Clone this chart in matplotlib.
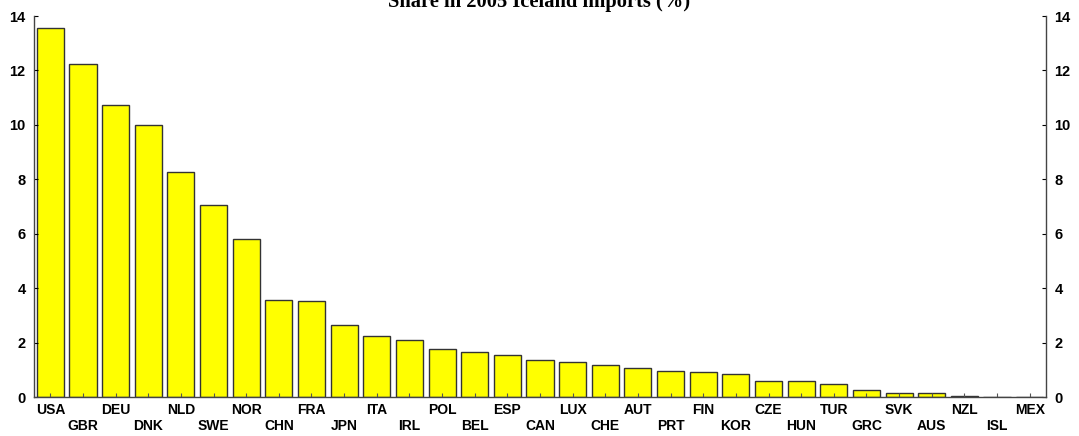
import matplotlib
matplotlib.use("Agg")
import matplotlib.pyplot as plt

countries = ["USA", "GBR", "DEU", "DNK", "NLD", "SWE", "NOR", "CHN", "FRA", "JPN",
             "ITA", "IRL", "POL", "BEL", "ESP", "CAN", "LUX", "CHE", "AUT", "PRT",
             "FIN", "KOR", "CZE", "HUN", "TUR", "GRC", "SVK", "AUS", "NZL", "ISL", "MEX"]
shares = [13.56, 12.24, 10.72, 10.0, 8.27, 7.06, 5.81, 3.55, 3.51, 2.65,
          2.25, 2.10, 1.76, 1.65, 1.54, 1.36, 1.29, 1.18, 1.07, 0.96,
          0.93, 0.85, 0.60, 0.60, 0.48, 0.26, 0.15, 0.13, 0.04, 0.0, 0.0]
yticks = [0, 2, 4, 6, 8, 10, 12, 14]
title = "Share in 2005 Iceland imports (%)"

fig = plt.figure(figsize=(10.79, 4.36), dpi=100)
ax = fig.add_axes([34/1079, 1-397/436, (1046-34)/1079, (397-16)/436])

x = list(range(len(countries)))
ax.bar(x, shares, width=0.83, color="#FFFF00", edgecolor="#333333", linewidth=1.0)

ax.set_xlim(-0.5, len(countries) - 0.5)
ax.set_ylim(0, 14)
ax.set_yticks(yticks)
ax.set_yticklabels([str(v) for v in yticks])

ax.set_xticks(x)
ax.set_xticklabels([c if i % 2 == 0 else "\n" + c for i, c in enumerate(countries)],
                   fontfamily="Liberation Sans", fontweight="bold", fontsize=10,
                   linespacing=1.2)
ax.tick_params(axis="x", direction="in", length=3, pad=4, color="#555555")
ax.tick_params(axis="y", direction="in", length=3, labelsize=10.5, pad=6,
               left=True, right=True, labelleft=True, labelright=True)
for lbl in ax.get_yticklabels():
    lbl.set_fontfamily("Liberation Sans")
    lbl.set_fontweight("bold")
ax.spines["top"].set_visible(False)
for s in ["left", "right", "bottom"]:
    ax.spines[s].set_color("#444444")
    ax.spines[s].set_linewidth(1.0)

fig.text(0.5, 1 - 7/436, title, ha="center", va="baseline",
         fontfamily="Liberation Serif", fontweight="bold", fontsize=14.8)

fig.savefig("out.png", dpi=100)
